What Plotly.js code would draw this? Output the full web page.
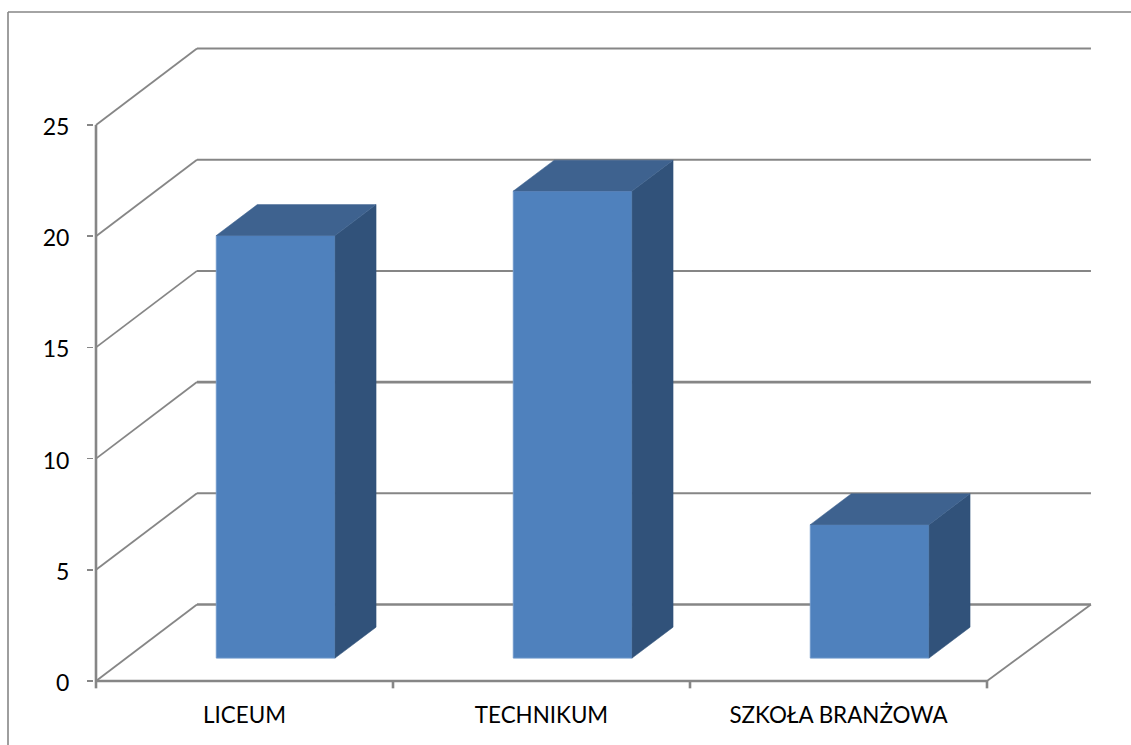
<!DOCTYPE html>
<html>
<head>
<meta charset="utf-8">
<script src="https://cdn.plot.ly/plotly-3.0.1.min.js"></script>
<style>html,body{margin:0;padding:0;background:#fff}#chart{width:1131px;height:745px}</style>
</head>
<body>
<div id="chart"></div>
<script>
// Data
const categories = ["LICEUM", "TECHNIKUM", "SZKOŁA BRANŻOWA"];
const values = [19, 21, 6];
const yTicks = [0, 5, 10, 15, 20, 25];
const xBoundaries = [0, 1, 2, 3];

// 3D-look geometry, in axis units
const wallDx = 0.34, wallDy = 3.44, wallEnd = 3.35;
const barDx = 0.138, barDy = 1.39;
const barBase = 1.03, barOffset = 0.605, barWidth = 0.4;
const gray = "#868686";
const fontFamily = "Lato, Carlito, Calibri, sans-serif";

// plot box in pixels, for the frame drawn in paper units
const W = 1131, H = 745, mL = 94, mR = 34, mT = 45, mB = 55;
const pw = W - mL - mR, ph = H - mT - mB;

const shapes = [];
function seg(x0, y0, x1, y1, w) {
  shapes.push({type: "line", layer: "below", xref: "x", yref: "y", x0, y0, x1, y1,
    line: {color: gray, width: w}});
}
yTicks.forEach(function (v) {
  seg(0, v, wallDx, v + wallDy, 1.8);
  seg(wallDx, v + wallDy, wallEnd, v + wallDy, v === 10 || v === 0 ? 2.6 : 2);
});
seg(3, 0, wallEnd, wallDy, 1.8);
// outer chart frame: left and top edges only
const frameX = (8 - mL) / pw, frameTop = 1 + (mT - 12) / ph;
shapes.push({type: "line", xref: "paper", yref: "paper", x0: frameX, x1: frameX, y0: -mB / ph, y1: frameTop,
  line: {color: gray, width: 1.6}});
shapes.push({type: "line", xref: "paper", yref: "paper", x0: frameX, x1: (W - mL) / pw, y0: frameTop, y1: frameTop,
  line: {color: gray, width: 1.6}});

const front = {
  type: "bar",
  x: values.map((v, i) => i + barOffset),
  y: values,
  base: values.map(() => barBase),
  width: barWidth,
  marker: {color: "#4f81bd", line: {color: "#6f98cb", width: 1}},
  hoverinfo: "skip"
};
function poly(xs, ys, color) {
  return {type: "scatter", mode: "lines", x: xs, y: ys, fill: "toself", fillcolor: color,
    line: {color: color, width: 0.5}, hoverinfo: "skip"};
}
const sides = values.map(function (v, i) {
  const xr = i + barOffset + barWidth / 2, top = v + barBase;
  return poly([xr, xr + barDx, xr + barDx, xr, xr],
              [barBase, barBase + barDy, top + barDy, top, barBase], "#31527a");
});
const tops = values.map(function (v, i) {
  const xr = i + barOffset + barWidth / 2, xl = xr - barWidth, top = v + barBase;
  return poly([xl, xl + barDx, xr + barDx, xr, xl],
              [top, top + barDy, top + barDy, top, top], "#3e628f");
});

// front axis lines and category tick marks
const axisX = [0, 0, null, 0, 3], axisY = [0, 25, null, 0, 0];
xBoundaries.forEach(function (t) { axisX.push(null, t, t); axisY.push(null, 0, -0.33); });
const axes = {type: "scatter", mode: "lines", x: axisX, y: axisY,
  line: {color: gray, width: 2.6}, hoverinfo: "skip"};

const layout = {
  width: W, height: H,
  margin: {l: mL, r: mR, t: mT, b: mB, pad: 0},
  paper_bgcolor: "#fff", plot_bgcolor: "#fff",
  showlegend: false, hovermode: false, bargap: 0,
  font: {family: fontFamily, color: "#000", size: 22},
  xaxis: {
    range: [-2 / 297, -2 / 297 + pw / 297], showgrid: false, zeroline: false, showline: false,
    tickmode: "array", tickvals: categories.map((c, i) => i + 0.5), ticktext: categories,
    ticks: "", ticklabelstandoff: 10, tickangle: 0,
    tickfont: {family: fontFamily, size: 22.4, color: "#000"}
  },
  yaxis: {
    range: [-9 / 22.24, -9 / 22.24 + ph / 22.24], showgrid: false, zeroline: false, showline: false,
    tickmode: "array", tickvals: yTicks,
    ticks: "outside", ticklen: 6, tickwidth: 1.5, tickcolor: gray, ticklabelstandoff: 13, ticklabelshift: 2,
    tickfont: {family: fontFamily, size: 23, color: "#000"}
  },
  shapes: shapes
};
Plotly.newPlot("chart", [front].concat(sides, tops, [axes]), layout, {displayModeBar: false, staticPlot: true});
</script>
</body>
</html>
